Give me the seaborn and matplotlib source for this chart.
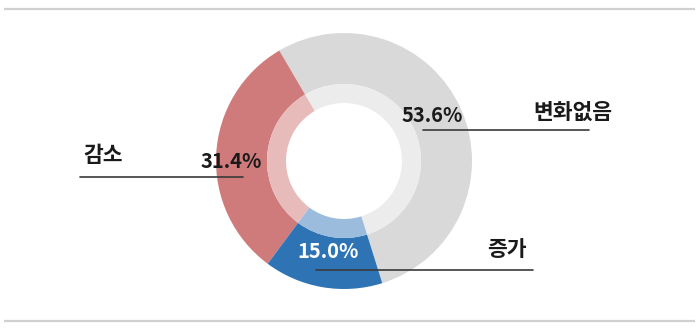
import matplotlib
matplotlib.use("Agg")
import matplotlib.pyplot as plt
import seaborn as sns

sns.set_theme(style="white")
plt.rcParams['font.family'] = ['Noto Sans CJK KR', 'DejaVu Sans']

# Data
categories = ["변화없음", "감소", "증가"]
values = [53.6, 31.4, 15.0]
pct_labels = ["53.6%", "31.4%", "15.0%"]

outer_colors = ["#d9d9d9", "#d07b7b", "#2e74b5"]
inner_colors = ["#ececec", "#e8bbbb", "#9bbcdd"]

W, H = 700, 329
fig = plt.figure(figsize=(W / 100, H / 100), dpi=100)
ax = fig.add_axes([0, 0, 1, 1])

def py(y):
    return H - y

cx, cy = 344, py(161)
R_out, R_mid, R_in = 128, 77, 58
start = -72.6

ax.pie(values, colors=outer_colors, radius=R_out, center=(cx, cy),
       startangle=start, counterclock=True,
       wedgeprops=dict(width=R_out - R_mid, linewidth=0), frame=True)
ax.pie(values, colors=inner_colors, radius=R_mid, center=(cx, cy),
       startangle=start, counterclock=True,
       wedgeprops=dict(width=R_mid - R_in, linewidth=0), frame=True)
ax.set_xlim(0, W)
ax.set_ylim(0, H)
ax.set_aspect("equal")
ax.axis("off")

# top / bottom rules
ax.plot([4, 695], [py(9), py(9)], color="#d0d0d0", lw=1.6, solid_capstyle="butt")
ax.plot([4, 695], [py(321), py(321)], color="#d0d0d0", lw=1.6, solid_capstyle="butt")

fs_pct = 14.5
fs_cat = 15.5
txt_col = "#1a1a1a"
line_col = "#3a3a3a"
# 변화없음
ax.text(432, py(116), pct_labels[0], ha="center", va="center", fontsize=fs_pct,
        fontweight="bold", color=txt_col)
ax.text(573, py(112), categories[0], ha="center", va="center", fontsize=fs_cat,
        fontweight="bold", color=txt_col)
ax.plot([423, 589], [py(130), py(130)], color=line_col, lw=1.2)
# 감소
ax.text(231, py(161), pct_labels[1], ha="center", va="center", fontsize=fs_pct,
        fontweight="bold", color=txt_col)
ax.text(103, py(155), categories[1], ha="center", va="center", fontsize=fs_cat,
        fontweight="bold", color=txt_col)
ax.plot([80, 243], [py(177), py(177)], color=line_col, lw=1.2)
# 증가
ax.text(328, py(252), pct_labels[2], ha="center", va="center", fontsize=fs_pct,
        fontweight="bold", color="white")
ax.text(507, py(250), categories[2], ha="center", va="center", fontsize=fs_cat,
        fontweight="bold", color=txt_col)
ax.plot([316, 533], [py(270), py(270)], color=line_col, lw=1.2)

fig.savefig("out.png", dpi=100, facecolor="white")
